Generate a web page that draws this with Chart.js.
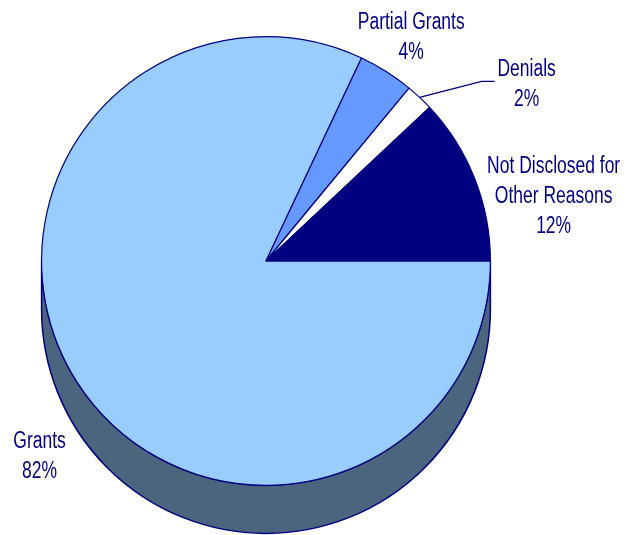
<!DOCTYPE html>
<html lang="en">
<head>
    <meta charset="UTF-8">
    <title>Document</title>
    <style>
        body { margin: 0; background: #fff; }
    </style>
</head>
<body>
    <div style="width : 628px; height : 535px">
        <canvas id="myChart" width="628" height="535"></canvas>
    </div>

    <script src="https://cdn.jsdelivr.net/npm/chart.js@4.4.0/dist/chart.umd.min.js"></script>
    <script>
    // data (clockwise from 3 o'clock)
    const categories = ['Grants', 'Partial Grants', 'Denials', 'Not Disclosed for Other Reasons'];
    const labelLines = [['Grants'], ['Partial Grants'], ['Denials'], ['Not Disclosed for', 'Other Reasons']];
    const shares = [82, 4, 2, 12];

    const v_navy = '#000080';
    const v_colors = ['#99CCFF', '#6699FF', '#FFFFFF', '#000080'];
    const v_sideColors = ['#4C657E', '#3A5590', '#9a9a9a', '#000050'];
    const v_depth = 48;

    // label shift from the middle of each slice's rim
    const v_labelShift = [[-37, 75], [25, -34], [107, -13], [79, 18]];
    // leader line for the small slice (relative to rim point)
    const v_leader = { 2: [[62, -16], [75, -16]] };

    // side wall of the 3d pie, drawn from the arcs chart.js computed
    const sidePlugin = {
        id: 'side3d',
        beforeDatasetsDraw(chart) {
            const ctx = chart.ctx;
            const meta = chart.getDatasetMeta(0);
            ctx.save();
            meta.data.forEach(function (arc, i) {
                const p = arc.getProps(['x', 'y', 'startAngle', 'endAngle', 'outerRadius'], true);
                const a = Math.max(p.startAngle, 0);
                const b = Math.min(p.endAngle, Math.PI);
                if (b <= a) return;
                ctx.beginPath();
                ctx.arc(p.x, p.y, p.outerRadius, a, b);
                ctx.arc(p.x, p.y + v_depth, p.outerRadius, b, a, true);
                ctx.closePath();
                ctx.fillStyle = v_sideColors[i];
                ctx.fill();
                ctx.lineWidth = 1.5;
                ctx.strokeStyle = v_navy;
                ctx.stroke();
            });
            ctx.restore();
        }
    };

    const labelPlugin = {
        id: 'pieLabels',
        afterDatasetsDraw(chart) {
            const ctx = chart.ctx;
            const meta = chart.getDatasetMeta(0);
            ctx.save();
            meta.data.forEach(function (arc, i) {
                const p = arc.getProps(['x', 'y', 'startAngle', 'endAngle', 'outerRadius'], true);
                const mid = (p.startAngle + p.endAngle) / 2;
                const rx = p.x + Math.cos(mid) * p.outerRadius;
                const ry = p.y + Math.sin(mid) * p.outerRadius;

                if (v_leader[i]) {
                    ctx.beginPath();
                    ctx.moveTo(rx, ry);
                    v_leader[i].forEach(function (pt) { ctx.lineTo(rx + pt[0], ry + pt[1]); });
                    ctx.lineWidth = 1.2;
                    ctx.strokeStyle = v_navy;
                    ctx.stroke();
                }

                const lines = labelLines[i].concat([shares[i] + '%']);
                const cx = rx + v_labelShift[i][0];
                const cy = ry + v_labelShift[i][1];
                const lh = 30;
                const top = cy - (lines.length - 1) * lh / 2;
                ctx.fillStyle = v_navy;
                ctx.font = '23px "Liberation Sans", Arial, sans-serif';
                ctx.textAlign = 'center';
                ctx.textBaseline = 'middle';
                lines.forEach(function (t, k) {
                    ctx.save();
                    ctx.translate(cx, top + k * lh);
                    ctx.scale(0.76, 1);
                    ctx.fillText(t, 0, 0);
                    ctx.restore();
                });
            });
            ctx.restore();
        }
    };

    const ctx = document.getElementById('myChart').getContext('2d');
    const myChart = new Chart(ctx, {
        type: 'pie',
        data: {
            labels: categories,
            datasets: [{
                data: shares,
                backgroundColor: v_colors,
                borderColor: v_navy,
                borderWidth: 1.2
            }]
        },
        options: {
            responsive: false,
            animation: false,
            rotation: 90,
            layout: {
                padding: { left: 41, right: 137, top: 36, bottom: 49 }
            },
            plugins: {
                legend: { display: false },
                tooltip: { enabled: false }
            }
        },
        plugins: [sidePlugin, labelPlugin]
    });
    </script>
</body>
</html>
